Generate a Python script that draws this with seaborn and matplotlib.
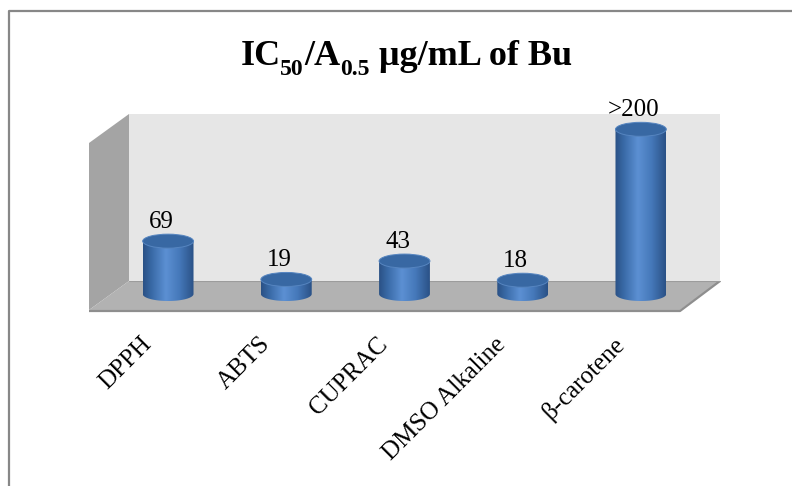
import numpy as np
import matplotlib
matplotlib.use("Agg")
import matplotlib.pyplot as plt
import seaborn as sns
from matplotlib.patches import Polygon, Ellipse
from matplotlib.transforms import offset_copy, blended_transform_factory
from matplotlib.colors import LinearSegmentedColormap

# ---- data ----
categories = ["DPPH", "ABTS", "CUPRAC", "DMSO Alkaline", "β-carotene"]
values = [69, 19, 43, 18, 215]
value_labels = ["69", "19", "43", "18", ">200"]
# title pieces: (text, is_subscript, gap in px before the piece)
title_parts = [("IC", False, 0), ("50", True, 0), ("/A", False, 0),
               ("0.5", True, 0), ("μg/mL of Bu", False, 9)]
y_max = 218

# ---- style ----
W, H, DPI = 792, 486, 100
sns.set_theme(style="white")
plt.rcParams["font.family"] = ["Liberation Serif", "DejaVu Serif"]

fig = plt.figure(figsize=(W / DPI, H / DPI), dpi=DPI)
fig.patch.set_facecolor("white")

# background layer in pixel units: chart frame, side wall and floor
bg = fig.add_axes([0, 0, 1, 1], zorder=0)
bg.set_xlim(0, W)
bg.set_ylim(H, 0)
bg.axis("off")

L, R, T, B = 129, 720, 114, 281      # back wall
DX, DY = -40, 29                     # depth of the 3-D box
bg.add_patch(Polygon([(L + DX, T + DY), (L, T), (L, B), (L + DX, B + DY)],
                     closed=True, fc="#A4A4A4", ec="none"))
bg.add_patch(Polygon([(L + DX, B + DY), (L, B), (R, B), (R + DX, B + DY)],
                     closed=True, fc="#B2B2B2", ec="none"))
bg.plot([L + DX, R + DX, R], [B + DY + 1, B + DY + 1, B],
        color="#8E8E8E", lw=1.6, solid_capstyle="butt")
bg.plot([L, R], [B, B], color="#9C9C9C", lw=0.8)
bg.plot([9, 9, W], [H, 11, 11], color="#878787", lw=1.6, solid_capstyle="butt")

# main axes on the back wall
ax = fig.add_axes([L / W, 1 - B / H, (R - L) / W, (B - T) / H], zorder=1)
ax.set_facecolor("#E6E6E6")
for s in ax.spines.values():
    s.set_visible(False)

sns.barplot(x=categories, y=values, ax=ax, width=0.43, color="#4F81BD",
            saturation=1, errorbar=None)
ax.set_xlim(-0.5, len(categories) - 0.5)
ax.set_ylim(0, y_max)
ax.set_xticks([])
ax.set_yticks([])
ax.set_xlabel("")
ax.set_ylabel("")

# cylinders sit halfway into the floor depth
cyl = offset_copy(ax.transData, fig=fig, x=-20, y=-13, units="dots")
px_per_unit = ax.bbox.height / y_max
ry = 7 / px_per_unit

cmap = LinearSegmentedColormap.from_list(
    "cyl", [(0.0, "#2A5185"), (0.18, "#3A6BA8"), (0.45, "#5C90D3"),
            (0.72, "#4578B9"), (1.0, "#2A5186")])
grad = np.linspace(0, 1, 256)[None, :]

for p in list(ax.patches):
    x0, w, h = p.get_x(), p.get_width(), p.get_height()
    p.set_visible(False)
    cx = x0 + w / 2
    t = np.linspace(np.pi, 2 * np.pi, 80)
    lower = np.column_stack([cx + w / 2 * np.cos(t), ry * np.sin(t)])
    verts = np.vstack([[x0, h], lower, [x0 + w, h]])
    body = Polygon(verts, closed=True, transform=cyl, fc="none", ec="none",
                   zorder=3, clip_on=False)
    ax.add_patch(body)
    im = ax.imshow(grad, cmap=cmap, extent=[x0, x0 + w, -ry, h], aspect="auto",
                   transform=cyl, zorder=3, interpolation="bilinear")
    im.set_clip_path(body)
    im.set_clip_box(fig.bbox)
    ax.add_patch(Ellipse((cx, h), w, 2 * ry, transform=cyl, fc="#3868A3",
                         ec="#5685C0", lw=0.7, zorder=4, clip_on=False))

ax.set_xlim(-0.5, len(categories) - 0.5)
ax.set_ylim(0, y_max)

# value labels above each cylinder
lab = offset_copy(ax.transData, fig=fig, x=-27, y=0, units="dots")
for i, (v, txt) in enumerate(zip(values, value_labels)):
    ax.text(i, v, txt, transform=lab, ha="center", va="baseline",
            fontsize=18, color="black", clip_on=False, zorder=5)

# category labels, rotated
cat_tr = blended_transform_factory(ax.transData, ax.transAxes)
cat_tr = offset_copy(cat_tr, fig=fig, x=-40, y=-60, units="dots")
for i, name in enumerate(categories):
    ax.text(i, 0, name, transform=cat_tr, rotation=45, rotation_mode="anchor",
            ha="right", va="center", fontsize=18, color="black", clip_on=False)

# title with real subscripts, laid out piece by piece and centred
renderer = fig.canvas.get_renderer()
title_center, title_base = 406, H - 65
pieces, total = [], 0.0
for txt, sub, gap in title_parts:
    t_obj = fig.text(0, 0, txt, fontsize=17 if sub else 26, fontweight="bold",
                     color="black", va="baseline", ha="left",
                     transform=None)
    wpx = t_obj.get_window_extent(renderer).width
    total += gap
    pieces.append((t_obj, total, sub))
    total += wpx
x_start = title_center - total / 2
for t_obj, xoff, sub in pieces:
    t_obj.set_position((x_start + xoff, title_base - (10 if sub else 0)))

fig.savefig("out.png", dpi=DPI)
